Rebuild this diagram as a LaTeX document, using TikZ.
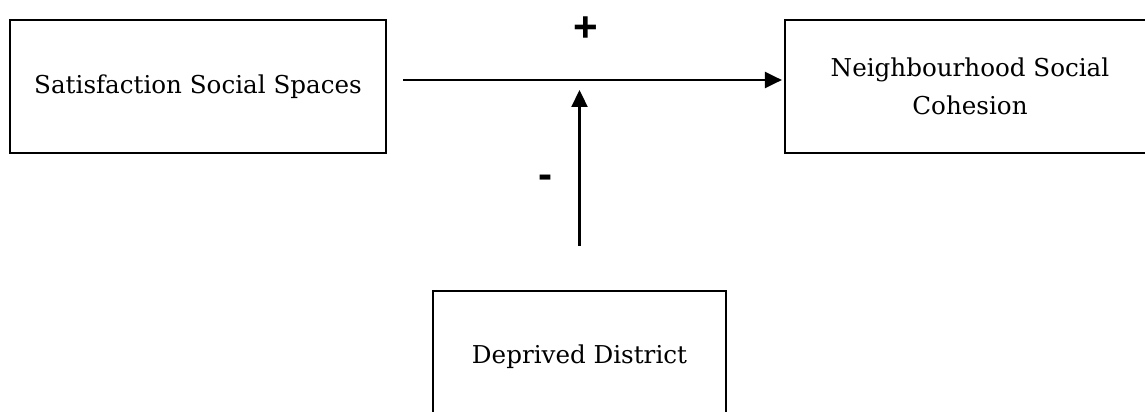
\documentclass[tikz,border=0pt]{standalone}
\usepackage{fontspec}
\setmainfont{DejaVu Serif}
\newfontfamily\signfont{Liberation Sans}
\usetikzlibrary{calc, arrows.meta}

\begin{document}
\begin{tikzpicture}[x=0.02cm, y=-0.02cm]
    \tikzstyle{construct} = [rectangle, draw=black, line width=1.3pt, align=center,
        font={\fontsize{14}{22}\selectfont}]
    \tikzstyle{effect} = [line width=1.3pt, -{Triangle[length=0.34cm, width=0.32cm]}]
    \tikzstyle{sign} = [font={\signfont\bfseries\fontsize{24}{24}\selectfont}]

    \useasboundingbox (0, 0) rectangle (1145, 412);
    \clip (0, 0) rectangle (1145, 412);

    % Constructs ----------------------------------------
    \node (S) at (198, 86.5) [construct, minimum width=7.52cm, minimum height=2.66cm]
        {Satisfaction Social Spaces};
    \node (N) at (970, 86.5) [construct, minimum width=7.4cm, minimum height=2.66cm]
        {Neighbourhood Social\\Cohesion};
    \node (D) at (579.5, 357) [construct, minimum width=5.86cm, minimum height=2.64cm]
        {Deprived District};
    % ---------------------------------------------------

    % Paths ---------------------------------------------
    \coordinate (M) at ($(S.east)!0.5!(N.west) + (-8, -6.5)$);
    \draw [effect, shorten <=.32cm, shorten >=.04cm] ($(S.east) + (0, -6.5)$) --
        ($(N.west) + (0, -6.5)$);
    \draw [effect, shorten <=.88cm, shorten >=.2cm] (D.north) -- (D.north |- M);

    \node (plus) at (586, 29) [sign] {+};
    \node (minus) at (546, 182) [sign] {-};
\end{tikzpicture}
\end{document}
